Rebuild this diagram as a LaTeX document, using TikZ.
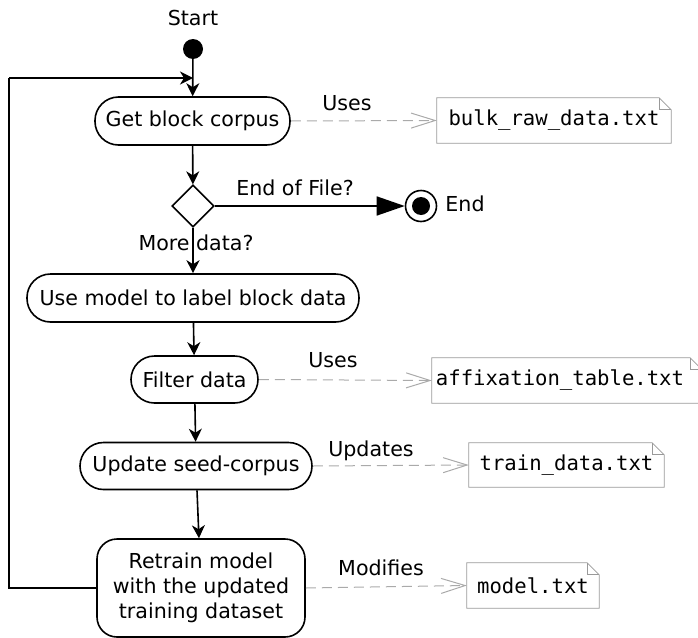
\documentclass[tikz,border=0pt]{standalone}
\usepackage{fontspec}
\setmainfont{DejaVu Sans}
\setmonofont{DejaVu Sans Mono}
\usetikzlibrary{arrows.meta,shapes.geometric,calc}
\definecolor{notegray}{HTML}{999999}
\definecolor{dashgray}{HTML}{AAAAAA}
\begin{document}
\begin{tikzpicture}[x=1pt,y=-1pt,
  font=\fontsize{20.6}{25}\selectfont,
  action/.style={draw, line width=1.6pt, rounded corners=23.5pt, inner sep=0pt, align=center},
  notebox/.style={inner sep=0pt, font=\fontsize{20.6}{25}\selectfont\ttfamily},
  flow/.style={line width=1.6pt, -{Stealth[length=13pt,width=13pt,inset=4pt]}},
  dep/.style={dashgray, line width=1pt, dash pattern=on 10pt off 6pt, -{Straight Barb[length=24pt,width=15pt,line width=1pt]}},
  lbl/.style={inner sep=0pt}
]
\useasboundingbox (0,0) rectangle (698,637);

% start / end
\node[lbl] (tstart) at (193,18) {Start};
\node[circle, fill=black, minimum size=20pt, inner sep=0pt] (start) at (193,49) {};
\node[circle, draw, line width=1.6pt, minimum size=31pt, inner sep=0pt] (end) at (421,206) {};
\node[circle, fill=black, minimum size=18pt, inner sep=0pt] (endin) at (421,206) {};
\node[lbl] (tend) at (465,204) {End};

% actions
\node[action, minimum width=195pt, minimum height=48pt] (get) at (192.5,121) {Get block corpus};
\node[draw, diamond, aspect=1, line width=1.6pt, minimum width=42pt, minimum height=42pt, inner sep=0pt] (dec) at (193,206) {};
\node[action, minimum width=332pt, minimum height=48pt] (use) at (193,298) {Use model to label block data};
\node[action, minimum width=127pt, minimum height=47pt] (filter) at (194.5,379.5) {Filter data};
\node[action, minimum width=232pt, minimum height=47pt] (update) at (196,466) {Update seed-corpus};
\node[action, rounded corners=20pt, minimum width=208pt, minimum height=98pt] (retrain) at (201,588) {Retrain model\\with the updated\\training dataset};

% notes
\node[notebox, minimum width=234pt, minimum height=45pt] (n1) at (554,120.5) {bulk\_raw\_data.txt};
\node[notebox, minimum width=270pt, minimum height=45pt] (n2) at (567,380.5) {\hspace*{-14pt}affixation\_table.txt};
\node[notebox, minimum width=195pt, minimum height=44pt] (n3) at (566.5,465) {train\_data.txt};
\node[notebox, minimum width=132pt, minimum height=45pt] (n4) at (533,585.5) {model.txt};
\foreach \n in {n1,n2,n3,n4}{
  \draw[notegray, line width=0.8pt] (\n.north west) -- ($(\n.north east)+(-12,0)$) -- ($(\n.north east)+(0,12)$) -- (\n.south east) -- (\n.south west) -- cycle;
  \draw[notegray, line width=0.8pt] ($(\n.north east)+(-12,0)$) -- ($(\n.north east)+(-12,12)$) -- ($(\n.north east)+(0,12)$);
}

% labels
\node[lbl] (l1) at (347,103) {Uses};
\node[lbl] (l2) at (295,188) {End of File?};
\node[lbl] (l3) at (196,243) {More data?};
\node[lbl] (l4) at (333,360) {Uses};
\node[lbl] (l5) at (371,451) {Updates};
\node[lbl] (l6) at (381,568) {Modifies};

% flow
\coordinate (join) at (193,78);
\coordinate (loopx) at (9,78);
\draw[flow] (start) -- (get);
\draw[flow] (get) -- (dec);
\draw[line width=1.6pt, -{Triangle[length=28pt,width=19pt]}] (dec.east) -- (end.west);
\draw[flow] (dec) -- (use);
\draw[flow] (use) -- (filter);
\draw[flow] (filter) -- (update);
\draw[flow] (update) -- (retrain);
\draw[line width=1.6pt] (retrain.west) -| (loopx);
\draw[flow] (loopx) -- (join);

% dependencies
\draw[dep] (get.east) -- (n1.west);
\draw[dep] (filter.east) -- (n2.west);
\draw[dep] (update.east) -- (n3.west);
\draw[dep] (retrain.east) -- (n4.west);
\end{tikzpicture}
\end{document}
